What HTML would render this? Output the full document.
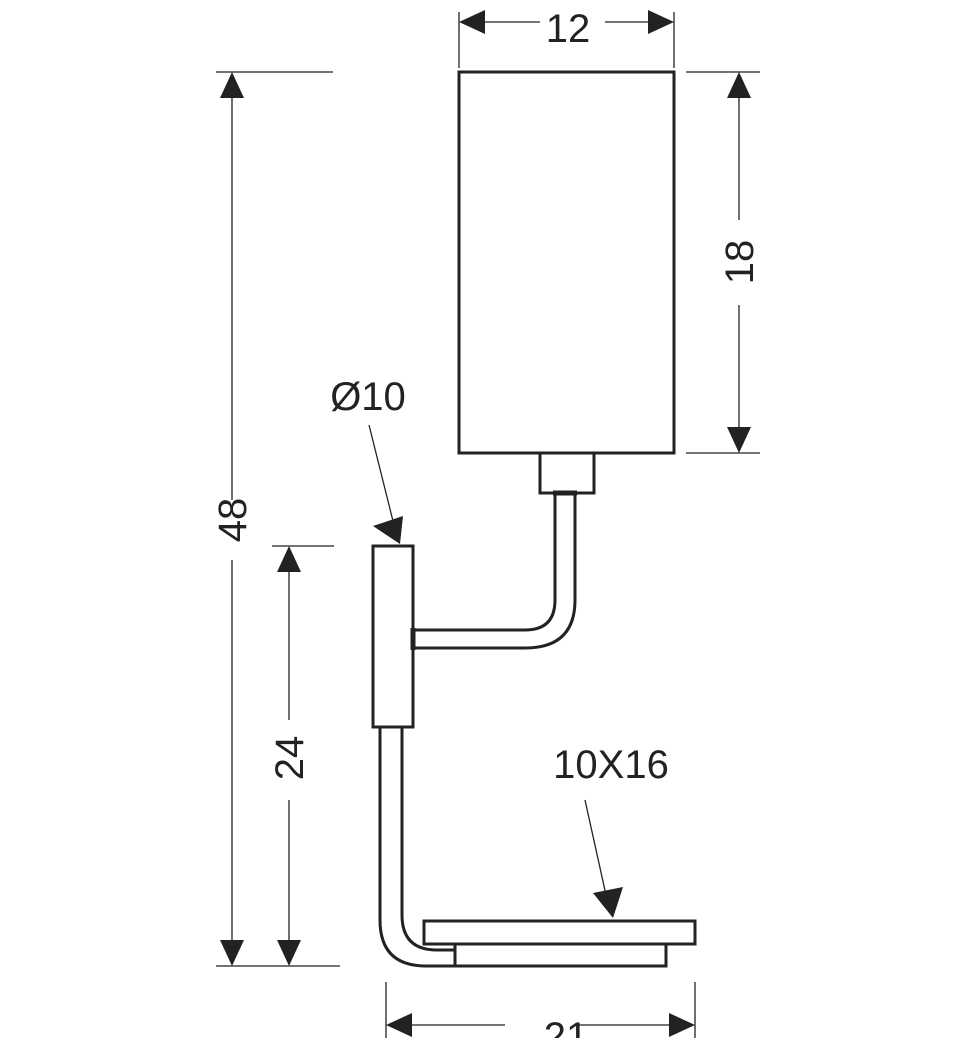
<!DOCTYPE html>
<html><head><meta charset="utf-8"><style>html,body{margin:0;padding:0;background:#fff}svg{display:block}</style></head><body>
<svg width="970" height="1038" viewBox="0 0 970 1038" xmlns="http://www.w3.org/2000/svg" font-family="Liberation Sans, sans-serif" fill="none" stroke="#222">
<g stroke-width="3">
<rect x="459" y="72" width="215" height="381"/>
<rect x="540" y="453" width="54" height="40"/>
<rect x="373" y="546" width="40" height="181"/>
<rect x="424" y="921" width="271" height="23"/>
<rect x="455" y="944" width="211" height="22"/>
<path d="M413 630 H525 Q555 630 555 600 V493"/>
<path d="M413 648 H525 Q575 648 575 600 V493"/>
<path d="M380 727 V920 Q380 966 426 966 H455"/>
<path d="M402 727 V915 Q402 950 437 950 H455"/>
</g>
<g stroke-width="5"><line x1="413" y1="628" x2="413" y2="650"/><line x1="553" y1="493" x2="577" y2="493"/></g>
<g stroke-width="1.3">
<line x1="232" y1="95" x2="232" y2="500"/><line x1="232" y1="560" x2="232" y2="945"/>
<line x1="216" y1="72" x2="333" y2="72"/><line x1="216" y1="966" x2="340" y2="966"/>
<line x1="289" y1="568" x2="289" y2="720"/><line x1="289" y1="800" x2="289" y2="945"/>
<line x1="272" y1="546" x2="334" y2="546"/>
<line x1="739" y1="95" x2="739" y2="220"/><line x1="739" y1="305" x2="739" y2="432"/>
<line x1="686" y1="72" x2="760" y2="72"/><line x1="686" y1="453" x2="760" y2="453"/>
<line x1="480" y1="22" x2="540" y2="22"/><line x1="605" y1="22" x2="652" y2="22"/>
<line x1="459" y1="12" x2="459" y2="68"/><line x1="674" y1="12" x2="674" y2="68"/>
<line x1="408" y1="1025" x2="505" y2="1025"/><line x1="577" y1="1025" x2="673" y2="1025"/>
<line x1="386" y1="982" x2="386" y2="1038"/><line x1="695" y1="982" x2="695" y2="1038"/>
<line x1="369" y1="425" x2="394" y2="525"/>
<line x1="585" y1="800" x2="606" y2="895"/>
</g>
<g fill="#222" stroke="none">
<path d="M232 72 l-12 26 h24z"/><path d="M232 966 l-12 -26 h24z"/>
<path d="M289 546 l-12 26 h24z"/><path d="M289 966 l-12 -26 h24z"/>
<path d="M739 72 l-12 26 h24z"/><path d="M739 453 l-12 -26 h24z"/>
<path d="M459 22 l26 -12 v24z"/><path d="M674 22 l-26 -12 v24z"/>
<path d="M386 1025 l26 -12 v24z"/><path d="M695 1025 l-26 -12 v24z"/>
<path d="M400 544 l-27 -18 l30 -10z"/>
<path d="M613 918 l-20 -25 l30 -6z"/>
</g>
<g fill="#222" stroke="none" font-size="40">
<text x="568" y="42" text-anchor="middle">12</text>
<text x="566" y="1050" text-anchor="middle">21</text>
<text x="368" y="410" text-anchor="middle">Ø10</text>
<text x="611" y="778" text-anchor="middle">10X16</text>
<text transform="translate(246,520) rotate(-90)" text-anchor="middle">48</text>
<text transform="translate(303,758) rotate(-90)" text-anchor="middle">24</text>
<text transform="translate(753,262) rotate(-90)" text-anchor="middle">18</text>
</g>
</svg>
</body></html>
